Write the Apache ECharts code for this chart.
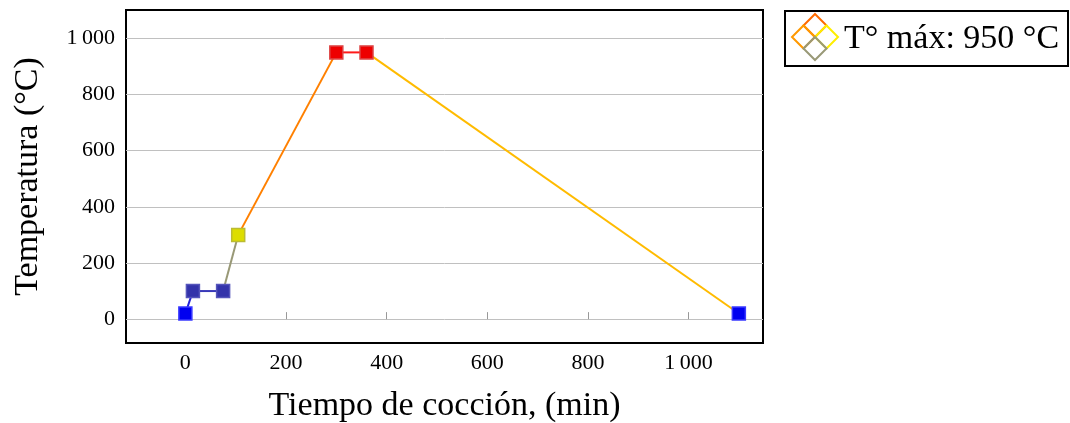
<!DOCTYPE html>
<html>
<head>
<meta charset="utf-8">
<script src="https://cdn.jsdelivr.net/npm/echarts@6/dist/echarts.min.js"></script>
<style>html,body{margin:0;padding:0;background:#fff;}#c{width:1070px;height:423px;}</style>
</head>
<body>
<div id="c"></div>
<script>
const timeMin = [0, 15, 75, 105, 300, 360, 1100];
const tempC = [20, 100, 100, 300, 950, 950, 20];
const segmentColors = ['#2222d8', '#3838b8', '#999977', '#ff8000', '#ff1a1a', '#ffbb00'];
const markerFill = ['#0000f0', '#3333aa', '#3333aa', '#dddd00', '#ee0000', '#ee0000', '#0000f0'];
const markerBorder = ['#3a3aff', '#5555bb', '#5555bb', '#bbbb33', '#dd4444', '#dd4444', '#3a3aff'];
const xTicks = [0, 200, 400, 600, 800, 1000];
const yTicks = [0, 200, 400, 600, 800, 1000];
const legendText = 'T° máx: 950 °C';
const xTitle = 'Tiempo de cocción, (min)';
const yTitle = 'Temperatura (°C)';

const FONT = '"Liberation Serif", "DejaVu Serif", serif';
const fmt = v => { const s = String(Math.round(v)); return s.length > 3 ? s.slice(0, -3) + '\u2009' + s.slice(-3) : s; };

const series = [];
for (let i = 0; i < timeMin.length - 1; i++) {
  series.push({
    type: 'line', symbol: 'none', silent: true, z: 2,
    lineStyle: { color: segmentColors[i], width: 2 },
    data: [[timeMin[i], tempC[i]], [timeMin[i + 1], tempC[i + 1]]]
  });
}
series.push({
  type: 'scatter', symbol: 'rect', symbolSize: 13, z: 3,
  data: timeMin.map((t, i) => ({
    value: [t, tempC[i]],
    itemStyle: { color: markerFill[i], borderColor: markerBorder[i], borderWidth: 1.5, opacity: 1 }
  }))
});

// legend icon: 2x2 grid of diamonds
const cx = 815, cy = 37, h = 11.5;
const diamond = (x, y, color) => ({
  type: 'polygon',
  shape: { points: [[x, y - h], [x + h, y], [x, y + h], [x - h, y]] },
  style: { fill: 'none', stroke: color, lineWidth: 2 }
});

const chart = echarts.init(document.getElementById('c'));
chart.setOption({
  animation: false,
  backgroundColor: '#fff',
  grid: { left: 126, right: 307, top: 10, bottom: 80, outerBoundsMode: 'none', containLabel: false, show: true, borderColor: '#000', borderWidth: 2, backgroundColor: 'transparent' },
  xAxis: {
    type: 'value', min: -118, max: 1148,
    name: xTitle, nameLocation: 'middle', nameGap: 46,
    nameTextStyle: { fontFamily: FONT, fontSize: 34, color: '#000' },
    axisLine: { show: false },
    axisTick: { show: true, inside: true, length: 7, customValues: xTicks, lineStyle: { color: '#999' } },
    axisLabel: { customValues: xTicks, formatter: fmt, fontFamily: FONT, fontSize: 22, color: '#000', margin: 9 },
    splitLine: { show: false }
  },
  yAxis: {
    type: 'value', min: -85, max: 1101,
    name: yTitle, nameLocation: 'middle', nameGap: 81, nameRotate: 90,
    nameTextStyle: { fontFamily: FONT, fontSize: 34, color: '#000' },
    axisLine: { show: false },
    axisTick: { show: false, customValues: yTicks },
    axisLabel: { customValues: yTicks, formatter: fmt, fontFamily: FONT, fontSize: 22, color: '#000', margin: 11 },
    splitLine: { show: true, lineStyle: { color: '#c0c0c0', width: 1 } }
  },
  series: series,
  graphic: [
    { type: 'rect', shape: { x: 785, y: 11, width: 283, height: 55 }, style: { fill: '#fff', stroke: '#000', lineWidth: 2 } },
    diamond(cx, cy - h, '#ff6a00'),
    diamond(cx - h, cy, '#ff9900'),
    diamond(cx + h, cy, '#ffee00'),
    diamond(cx, cy + h, '#999977'),
    { type: 'text', x: 844, y: 39, style: { text: legendText, font: '34px ' + FONT, fill: '#000', verticalAlign: 'middle', align: 'left' } }
  ]
});
</script>
</body>
</html>
